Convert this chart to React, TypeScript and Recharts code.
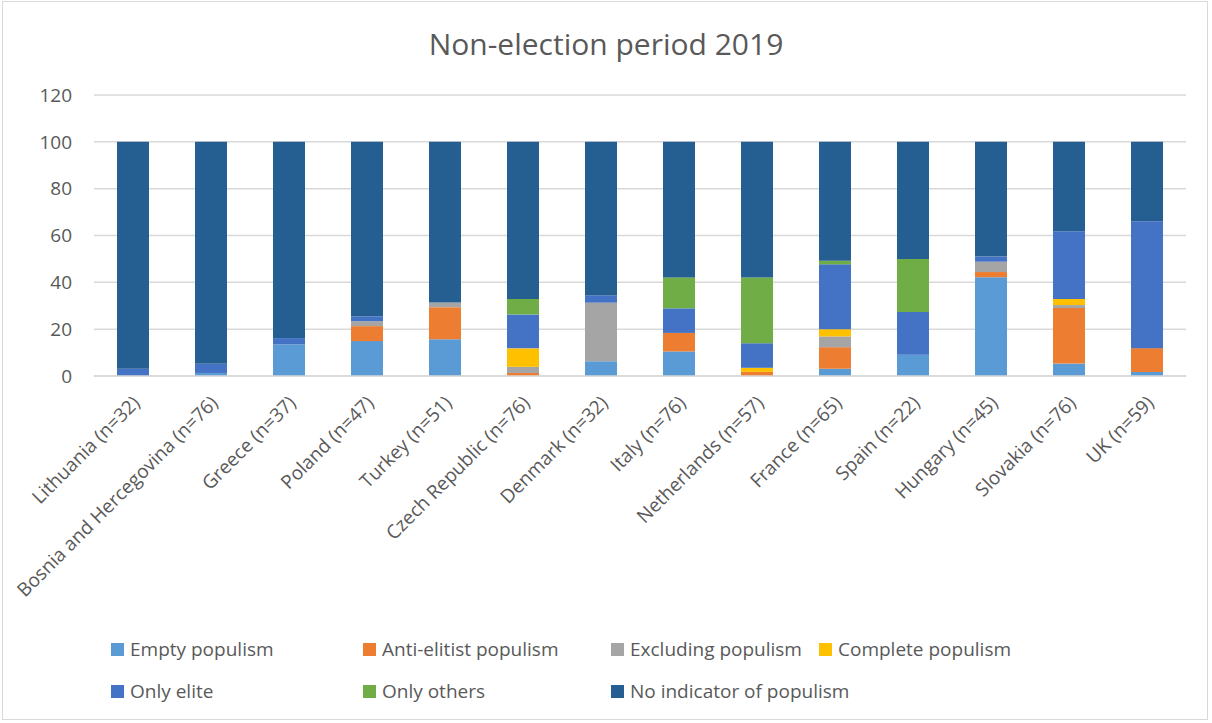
import React from "react";
import { BarChart, Bar, XAxis, YAxis, CartesianGrid, Legend } from "recharts";

const categories = [
  "Lithuania (n=32)",
  "Bosnia and Hercegovina (n=76)",
  "Greece (n=37)",
  "Poland (n=47)",
  "Turkey (n=51)",
  "Czech Republic (n=76)",
  "Denmark (n=32)",
  "Italy (n=76)",
  "Netherlands (n=57)",
  "France (n=65)",
  "Spain (n=22)",
  "Hungary (n=45)",
  "Slovakia (n=76)",
  "UK (n=59)",
];

const emptyPopulism = [0, 1.3, 13.5, 14.9, 15.7, 0, 6.3, 10.5, 0, 3.1, 9.1, 42.2, 5.3, 1.7];
const antiElitistPopulism = [0, 0, 0, 6.4, 13.7, 1.3, 0, 7.9, 1.75, 9.2, 0, 2.2, 23.7, 10.2];
const excludingPopulism = [0, 0, 0, 2.1, 2.0, 2.6, 25, 0, 0, 4.6, 0, 4.4, 1.3, 0];
const completePopulism = [0, 0, 0, 0, 0, 7.9, 0, 0, 1.75, 3.1, 0, 0, 2.6, 0];
const onlyElite = [3.1, 3.9, 2.7, 2.1, 0, 14.5, 3.1, 10.5, 10.5, 27.7, 18.2, 2.2, 28.9, 54.2];
const onlyOthers = [0, 0, 0, 0, 0, 6.6, 0, 13.2, 28.1, 1.5, 22.7, 0, 0, 0];
const noIndicator = [96.9, 94.8, 83.8, 74.5, 68.6, 67.1, 65.6, 57.9, 57.9, 50.8, 50, 49, 38.2, 33.9];

const yTicks = [0, 20, 40, 60, 80, 100, 120];

const seriesKeys = ["empty", "anti", "excluding", "complete", "elite", "others", "none"];
const seriesNames = [
  "Empty populism",
  "Anti-elitist populism",
  "Excluding populism",
  "Complete populism",
  "Only elite",
  "Only others",
  "No indicator of populism",
];
const seriesColors = ["#5B9BD5", "#ED7D31", "#A5A5A5", "#FFC000", "#4472C4", "#70AD47", "#255E91"];
const seriesValues = [
  emptyPopulism,
  antiElitistPopulism,
  excludingPopulism,
  completePopulism,
  onlyElite,
  onlyOthers,
  noIndicator,
];

const data = categories.map((name, i) => {
  const row: Record<string, any> = { name };
  seriesKeys.forEach((k, s) => {
    row[k] = seriesValues[s][i];
  });
  return row;
});

const FONT = "'Open Sans', Lato, sans-serif";
const TEXT = "#595959";

const XTick = (props: any) => {
  const { x, y, payload } = props;
  const ax = x + 8;
  const ay = y;
  return (
    <text
      x={ax}
      y={ay}
      transform={`rotate(-45 ${ax} ${ay})`}
      textAnchor="end"
      fill={TEXT}
      fontSize={19}
      fontFamily={FONT}
    >
      {payload.value}
    </text>
  );
};

const legendCols = [111, 363, 611, 819];
const legendRowsY = [649, 691];
const legendLayout = [
  [0, 0], [1, 0], [2, 0], [3, 0],
  [0, 1], [1, 1], [2, 1],
];

const LegendContent = () => (
  <div style={{ position: "relative", width: 1212, height: 100 }}>
    {seriesNames.map((n, i) => {
      const [c, r] = legendLayout[i];
      return (
        <div
          key={n}
          style={{
            position: "absolute",
            left: legendCols[c],
            top: legendRowsY[r] - 620 - 13,
            height: 26,
            display: "flex",
            alignItems: "center",
            whiteSpace: "nowrap",
            fontFamily: FONT,
            fontSize: 19,
            color: TEXT,
          }}
        >
          <span style={{ width: 13, height: 13, background: seriesColors[i], marginRight: 6, display: "inline-block" }} />
          {n}
        </div>
      );
    })}
  </div>
);

export default function App() {
  return (
    <div style={{ position: "absolute", left: 0, top: 0, width: 1212, height: 723, background: "#fff" }}>
      <div
        style={{
          position: "absolute",
          left: 2,
          top: 1,
          width: 1206,
          height: 719,
          border: "1px solid #d9d9d9",
          boxSizing: "border-box",
        }}
      />
      <div
        style={{
          position: "absolute",
          top: 29,
          left: 0,
          width: 1212,
          textAlign: "center",
          fontFamily: FONT,
          fontSize: 30,
          lineHeight: "30px",
          color: TEXT,
        }}
      >
        Non-election period 2019
      </div>
      <BarChart
        width={1212}
        height={723}
        data={data}
        margin={{ top: 95, right: 26, left: 0, bottom: 107 }}
        barSize={32}
        style={{ position: "absolute", left: 0, top: 0 }}
      >
        <CartesianGrid vertical={false} stroke="#d9d9d9" strokeWidth={1.5} />
        <XAxis
          dataKey="name"
          interval={0}
          height={240}
          tickLine={false}
          tickSize={0}
          tickMargin={28}
          axisLine={{ stroke: "#d9d9d9", strokeWidth: 1.5 }}
          tick={<XTick />}
        />
        <YAxis
          width={94}
          domain={[0, 120]}
          ticks={yTicks}
          axisLine={false}
          tickLine={false}
          tickSize={0}
          tickMargin={22}
          tick={{ fill: TEXT, fontSize: 19, fontFamily: FONT }}
        />
        {seriesKeys.map((k, i) => (
          <Bar
            key={k}
            dataKey={k}
            name={seriesNames[i]}
            stackId="a"
            fill={seriesColors[i]}
            isAnimationActive={false}
          />
        ))}
        <Legend
          layout="horizontal"
          verticalAlign="middle"
          align="center"
          wrapperStyle={{ left: 0, top: 620, width: 1212, height: 100 }}
          content={<LegendContent />}
        />
      </BarChart>
    </div>
  );
}
